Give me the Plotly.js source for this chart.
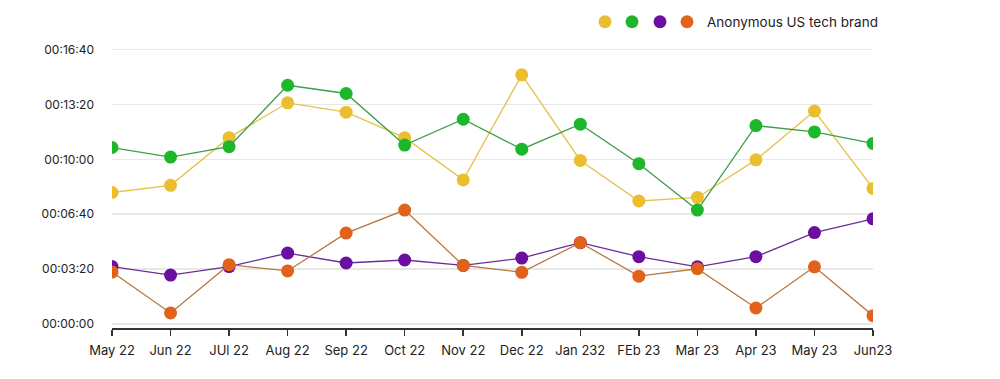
<!DOCTYPE html>
<html>
<head>
<meta charset="utf-8">
<script src="https://cdn.plot.ly/plotly-3.0.1.min.js"></script>
<style>html,body{margin:0;padding:0;background:#fff;}#chart{width:1000px;height:379px;}</style>
</head>
<body>
<div id="chart"></div>
<script>
const months = ["May 22","Jun 22","JUl 22","Aug 22","Sep 22","Oct 22","Nov 22","Dec 22","Jan 232","FEb 23","Mar 23","Apr 23","May 23","Jun23"];
// values in seconds
const yellowSeries = [479,505,679,806,772,679,525,908,596,448,461,598,776,494];
const greenSeries  = [643,608,646,870,840,652,746,637,728,584,415,723,700,658];
const purpleSeries = [209,178,209,258,222,233,213,240,296,245,208,245,333,383];
const orangeSeries = [189,40,216,193,331,415,213,188,296,174,201,58,208,30];
const yTickVals = [0,200,400,600,800,1000];
const yTickText = ["00:00:00","00:03:20","00:06:40","00:10:00","00:13:20","00:16:40"];
const legendNames = ["","","","Anonymous US tech brand"];

const series = [
  {y: yellowSeries, marker: "#EBBE2F", line: "#E6C24A"},
  {y: greenSeries,  marker: "#1DB72B", line: "#3E9E46"},
  {y: purpleSeries, marker: "#6A0F9F", line: "#6B2E97"},
  {y: orangeSeries, marker: "#E0621B", line: "#B8783F"}
];
const legendIds = ["legend","legend2","legend3","legend4"];
const legendX = [585, 612, 640, 667];
const traces = [];
series.forEach(s => {
  traces.push({
    type: "scatter", mode: "lines+markers", x: months, y: s.y,
    line: {color: s.line, width: 1.3},
    marker: {color: s.marker, size: 13},
    showlegend: false, hoverinfo: "skip"
  });
});
series.forEach((s, i) => {
  traces.push({
    type: "scatter", mode: "markers", x: [null], y: [null],
    name: legendNames[i], marker: {color: s.marker, size: 13},
    showlegend: true, legend: legendIds[i]
  });
});

const layout = {
  width: 1000, height: 379,
  margin: {l: 112, r: 127, t: 40, b: 51},
  paper_bgcolor: "#fff", plot_bgcolor: "#fff",
  font: {family: "Inter, 'Open Sans', sans-serif", size: 13, color: "#222"},
  showlegend: true,
  xaxis: {
    type: "category", range: [0, 13], showgrid: false, zeroline: false,
    showline: true, linecolor: "#333", linewidth: 1.5,
    ticks: "outside", ticklen: 6, tickcolor: "#333", tickwidth: 1.5,
    ticklabelstandoff: 4,
    tickfont: {size: 13, color: "#222"}
  },
  yaxis: {
    range: [-15, 1035], showgrid: true, gridcolor: "#e8e8e8", gridwidth: 1.5,
    zeroline: false, showline: false, ticks: "",
    tickvals: yTickVals, ticktext: yTickText, ticklabelstandoff: 17,
    tickfont: {size: 12, color: "#222"}
  }
};
legendIds.forEach((id, i) => {
  layout[id] = {
    orientation: "h", xref: "container", yref: "container",
    x: legendX[i] / 1000, y: 1 - 22/379, xanchor: "left", yanchor: "middle",
    itemclick: false, bgcolor: "rgba(0,0,0,0)",
    font: {size: 13.5, color: "#222"}
  };
});
Plotly.newPlot("chart", traces, layout, {displayModeBar: false, staticPlot: true});
</script>
</body>
</html>
